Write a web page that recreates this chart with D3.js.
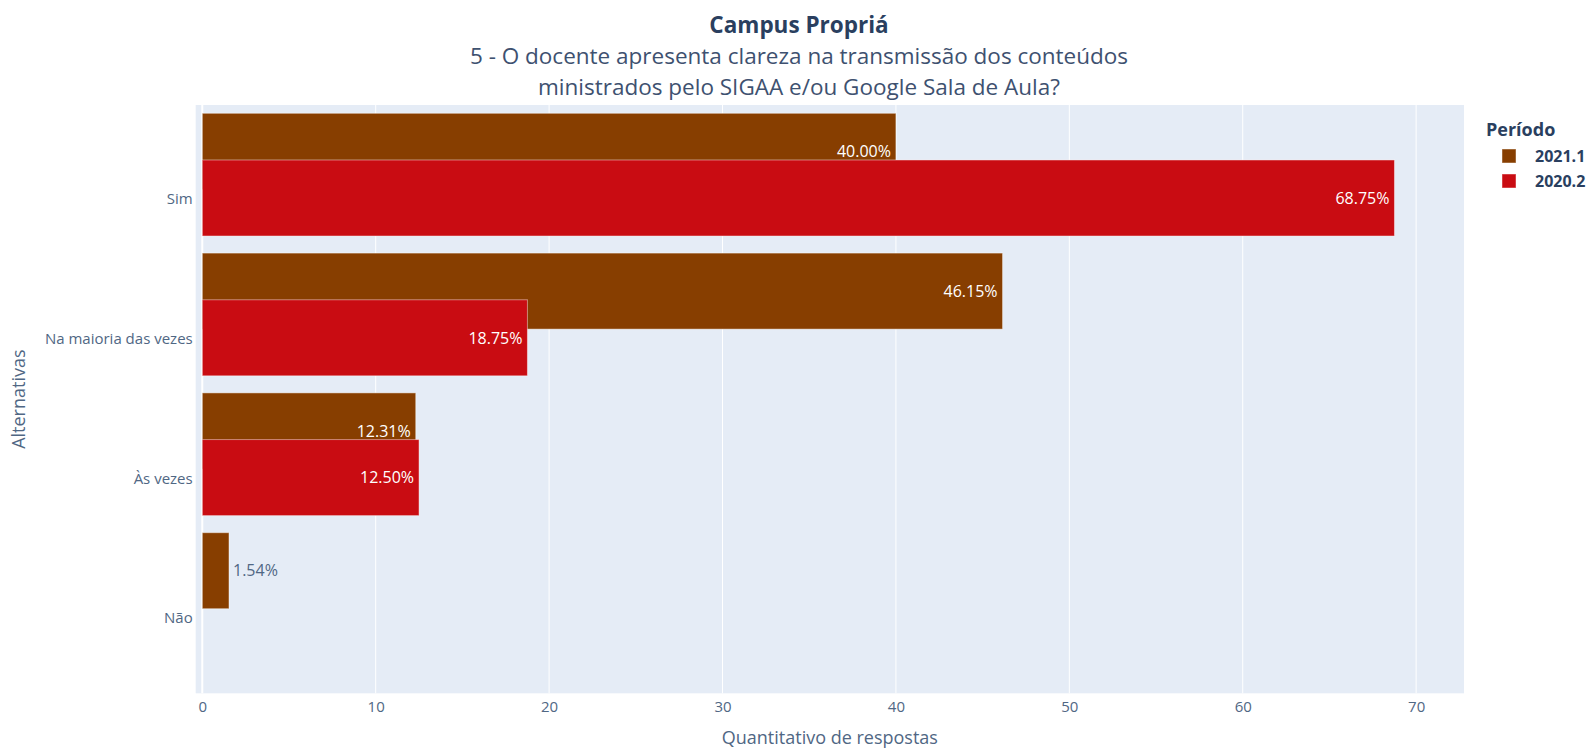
<!DOCTYPE html>
<html>
<head>
<meta charset="utf-8">
<script src="https://cdn.jsdelivr.net/npm/d3@7"></script>
<style>
  html, body { margin: 0; padding: 0; background: #fff; }
  svg { display: block; font-family: "Open Sans", "Noto Sans", sans-serif; }
  .axis { font-family: "Open Sans", "Noto Sans", sans-serif; }
  .axis .tick text { fill: #506784; font-size: 15px; }
  .axis .domain { display: none; }
  .axis .tick line { display: none; }
</style>
</head>
<body>
<svg id="chart" width="1590" height="750"></svg>
<script>
// dados
const categorias = ['Sim', 'Na maioria das vezes', 'Às vezes', 'Não'];
const periodos = ['2021.1', '2020.2'];
const cores = ['#873e00', '#c90c12'];
const valores20211 = [40.00, 46.15, 12.31, 1.54];
const valores20202 = [68.75, 18.75, 12.50, null];
const xTicks = [0, 10, 20, 30, 40, 50, 60, 70];

const titulo = 'Campus Propriá';
const subtitulo = ['5 - O docente apresenta clareza na transmissão dos conteúdos',
                   'ministrados pelo SIGAA e/ou Google Sala de Aula?'];

(function(){
  const svg = d3.select('#chart');
  const plot = {left: 195.7, right: 1464, top: 105, bottom: 693.3};

  const x = d3.scaleLinear().domain([-0.38, 72.76]).range([plot.left, plot.right]);
  const y = d3.scalePoint().domain(categorias).range([198, 617.4]);
  const step = y.step();
  const barH = step * 0.544;
  // 2021.1 deslocado para cima, 2020.2 centrado na categoria
  const offsets = [-0.334 * step, 0];
  const series = [valores20211, valores20202];

  // fundo da área do gráfico
  svg.append('rect')
    .attr('x', plot.left).attr('y', plot.top)
    .attr('width', plot.right - plot.left).attr('height', plot.bottom - plot.top)
    .attr('fill', '#e5ecf6');

  // grade vertical
  svg.append('g').selectAll('line').data(xTicks).enter()
    .append('line')
    .attr('x1', d => x(d)).attr('x2', d => x(d))
    .attr('y1', plot.top).attr('y2', plot.bottom)
    .attr('stroke', '#fff')
    .attr('stroke-width', d => d === 0 ? 2 : 1);

  // barras + rótulos, uma série por vez (2020.2 desenhada por cima)
  const dentro = d => (x(d.v) - x(0)) > 60;
  series.forEach((vals, si) => {
    const g = svg.append('g').attr('class', 'serie');
    const data = categorias.map((c, i) => ({c, v: vals[i]})).filter(d => d.v != null);
    g.selectAll('rect').data(data).enter()
      .append('rect')
      .attr('x', x(0))
      .attr('y', d => y(d.c) + offsets[si] - barH / 2)
      .attr('width', d => x(d.v) - x(0))
      .attr('height', barH)
      .attr('fill', cores[si])
      .attr('stroke', 'rgba(255,255,255,0.45)')
      .attr('stroke-width', 1);

    g.selectAll('text').data(data).enter()
      .append('text')
      .attr('x', d => dentro(d) ? x(d.v) - 5 : x(d.v) + 4)
      .attr('y', d => y(d.c) + offsets[si])
      .attr('dy', '0.36em')
      .attr('text-anchor', d => dentro(d) ? 'end' : 'start')
      .attr('fill', d => dentro(d) ? '#ffffff' : '#506784')
      .style('font-size', '16px')
      .text(d => d.v.toFixed(2) + '%');
  });

  // eixos
  svg.append('g').attr('class', 'axis')
    .attr('transform', `translate(0,${plot.bottom})`)
    .call(d3.axisBottom(x).tickValues(xTicks).tickSize(0).tickPadding(8))
    .attr('font-family', null).attr('font-size', null);
  const yAxis = svg.append('g').attr('class', 'axis')
    .attr('transform', `translate(${plot.left},0)`)
    .call(d3.axisLeft(y).tickSize(0).tickPadding(3))
    .attr('font-family', null).attr('font-size', null);
  yAxis.selectAll('.tick text').attr('dy', '0.36em');

  // títulos dos eixos
  svg.append('text')
    .attr('x', (plot.left + plot.right) / 2).attr('y', 744)
    .attr('text-anchor', 'middle').attr('fill', '#506784')
    .style('font-size', '18px')
    .text('Quantitativo de respostas');
  svg.append('text')
    .attr('transform', `translate(25,${(plot.top + plot.bottom) / 2}) rotate(-90)`)
    .attr('text-anchor', 'middle').attr('fill', '#506784')
    .style('font-size', '18px')
    .text('Alternativas');

  // título
  const tx = 799;
  svg.append('text')
    .attr('x', tx).attr('y', 33).attr('text-anchor', 'middle')
    .attr('fill', '#2a3f5f').style('font-size', '22.5px').style('font-weight', 'bold')
    .text(titulo);
  subtitulo.forEach((s, i) => {
    svg.append('text')
      .attr('x', tx).attr('y', 64 + i * 31).attr('text-anchor', 'middle')
      .attr('fill', '#3e5170').style('font-size', '22.5px')
      .text(s);
  });

  // legenda
  const leg = svg.append('g').attr('transform', 'translate(1486,0)');
  leg.append('text').attr('x', 0).attr('y', 136)
    .attr('fill', '#2a3f5f').style('font-size', '18px').style('font-weight', 'bold')
    .text('Período');
  periodos.forEach((p, i) => {
    const yy = 156 + i * 25;
    leg.append('rect')
      .attr('x', 16).attr('y', yy - 7).attr('width', 14).attr('height', 14)
      .attr('fill', cores[i]).attr('stroke', 'rgba(255,255,255,0.45)');
    leg.append('text')
      .attr('x', 49).attr('y', yy).attr('dy', '0.36em')
      .attr('fill', '#2a3f5f').style('font-size', '16px').style('font-weight', 'bold')
      .text(p);
  });
})();
</script>
</body>
</html>
